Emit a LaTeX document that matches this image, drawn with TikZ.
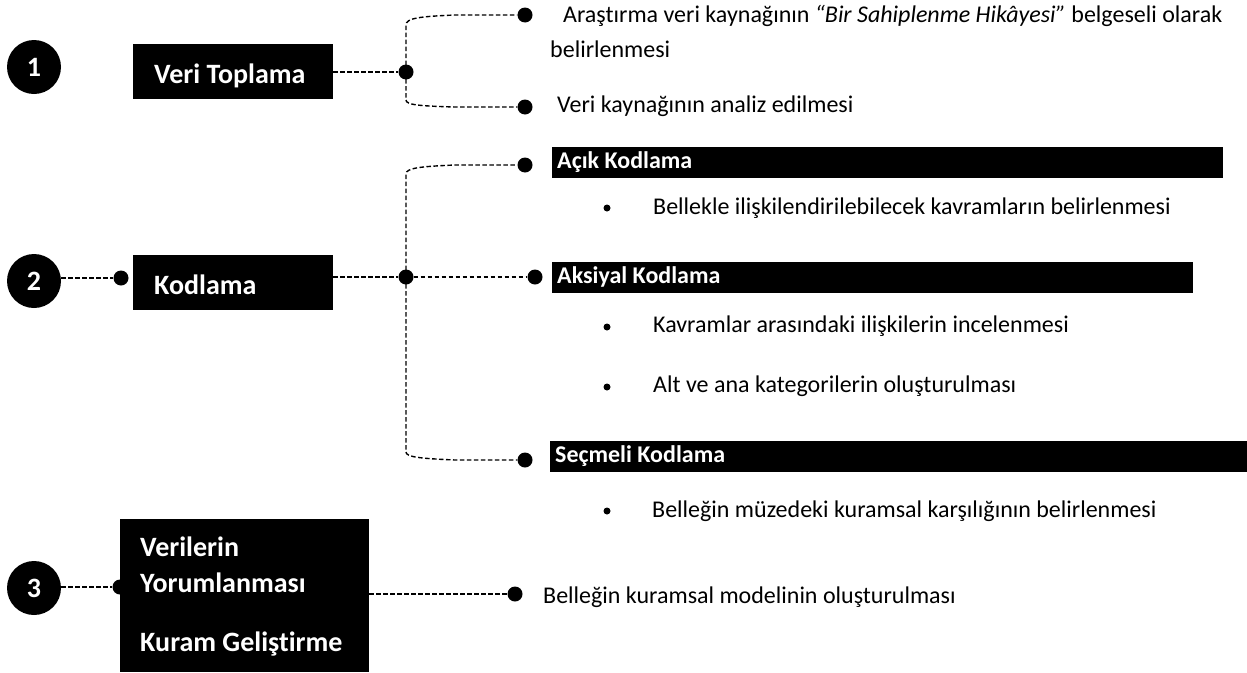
\documentclass[tikz,border=0pt]{standalone}
\usepackage{fontspec}
\setmainfont{Carlito}[Ligatures=NoCommon]
\begin{document}
\begin{tikzpicture}[x=1pt,y=-1pt,
  conn/.style={line width=1.4pt, dash pattern=on 4.5pt off 2.5pt},
  dotnode/.style={circle, fill=black, inner sep=0pt, minimum size=15pt},
  numc/.style={circle, fill=black, text=white, inner sep=0pt, minimum size=54pt, font=\fontsize{28}{30}\selectfont\bfseries},
  stagebox/.style={fill=black, text=white, anchor=north west, font=\fontsize{28}{32}\selectfont\bfseries, inner xsep=21pt, inner ysep=12pt, text height=27pt, text depth=4pt, align=flush left},
  boxtxt/.style={anchor=base west, inner sep=0pt, text=white, font=\fontsize{28}{32}\selectfont\bfseries},
  bar/.style={fill=black, text=white, anchor=north west, font=\fontsize{24}{28}\selectfont\bfseries, inner xsep=5pt, inner ysep=6pt, text height=15pt, text depth=4pt, align=flush left},
  txt/.style={anchor=base west, inner sep=0pt, font=\fontsize{24}{28}\selectfont},
  bul/.style={circle, fill=black, inner sep=0pt, minimum size=7pt}
]
\useasboundingbox (0,0) rectangle (1247,672);

% numbered circles
\node[numc] (c1) at (34,67) {1};
\node[numc] (c2) at (34,281) {2};
\node[numc] (c3) at (34,588) {3};

% dots
\node[dotnode] (d2) at (121,278) {};
\node[dotnode] (d3) at (120,587) {};
\node[dotnode] (j1) at (406,72) {};
\node[dotnode] (j2) at (406,277) {};
\node[dotnode] (e11) at (525,15) {};
\node[dotnode] (e12) at (525,107) {};
\node[dotnode] (e21) at (525,165) {};
\node[dotnode] (e22) at (535,277) {};
\node[dotnode] (e23) at (525,460) {};
\node[dotnode] (e3) at (515,594) {};

% stage boxes
\node[stagebox, text width=158pt] (b1) at (133,44) {Veri Toplama};
\node[stagebox, text width=158pt] (b2) at (133,255) {Kodlama};
\node[fill=black, anchor=north west, minimum width=249pt, minimum height=153pt, inner sep=0pt] (b3) at (120,519) {};
\node[boxtxt] (t31) at (140,556) {Verilerin};
\node[boxtxt] (t32) at (140,592) {Yorumlanması};
\node[boxtxt] (t33) at (140,651) {Kuram Geliştirme};

% connectors
\draw[conn] (c2.east |- d2) -- (d2);
\draw[conn] (c3.east |- d3) -- (d3);
\draw[conn] (b1.east |- j1) -- (j1);
\draw[conn] (j1.center) -- (406,25) .. controls (406,18) and (420,16.5) .. (455,15) -- (e11);
\draw[conn] (j1.center) -- (406,100) .. controls (406,105) and (420,106) .. (455,107) -- (e12);
\draw[conn] (b2.east |- j2) -- (j2);
\draw[conn] (j2.center) -- (406,174) .. controls (406,168) and (420,166.5) .. (455,165) -- (e21);
\draw[conn] (j2) -- (e22);
\draw[conn] (j2.center) -- (406,452) .. controls (406,457) and (420,458.5) .. (455,460) -- (e23);
\draw[conn] (b3.east |- e3) -- (e3);

% top texts
\node[txt] (t11) at (563,22) {Araştırma veri kaynağının \textit{“Bir Sahiplenme Hikâyesi”} belgeseli olarak};
\node[txt] (t12) at (550,57) {belirlenmesi};
\node[txt] (t13) at (557,112) {Veri kaynağının analiz edilmesi};

% bars
\node[bar, text width=661pt] (a1) at (552,147) {Açık Kodlama};
\node[bar, text width=631pt] (a2) at (552,262) {Aksiyal Kodlama};
\node[bar, text width=687pt] (a3) at (550,441) {Seçmeli Kodlama};

% bullets
\node[bul] (u1) at (607,208) {};
\node[bul] (u2) at (607,327) {};
\node[bul] (u3) at (607,387) {};
\node[bul] (u4) at (607,511) {};
\node[txt] (s1) at (653,214) {Bellekle ilişkilendirilebilecek kavramların belirlenmesi};
\node[txt] (s2) at (653,332) {Kavramlar arasındaki ilişkilerin incelenmesi};
\node[txt] (s3) at (653,392) {Alt ve ana kategorilerin oluşturulması};
\node[txt] (s4) at (652,517) {Belleğin müzedeki kuramsal karşılığının belirlenmesi};

% bottom text
\node[txt] (t3) at (543,603) {Belleğin kuramsal modelinin oluşturulması};
\end{tikzpicture}
\end{document}
